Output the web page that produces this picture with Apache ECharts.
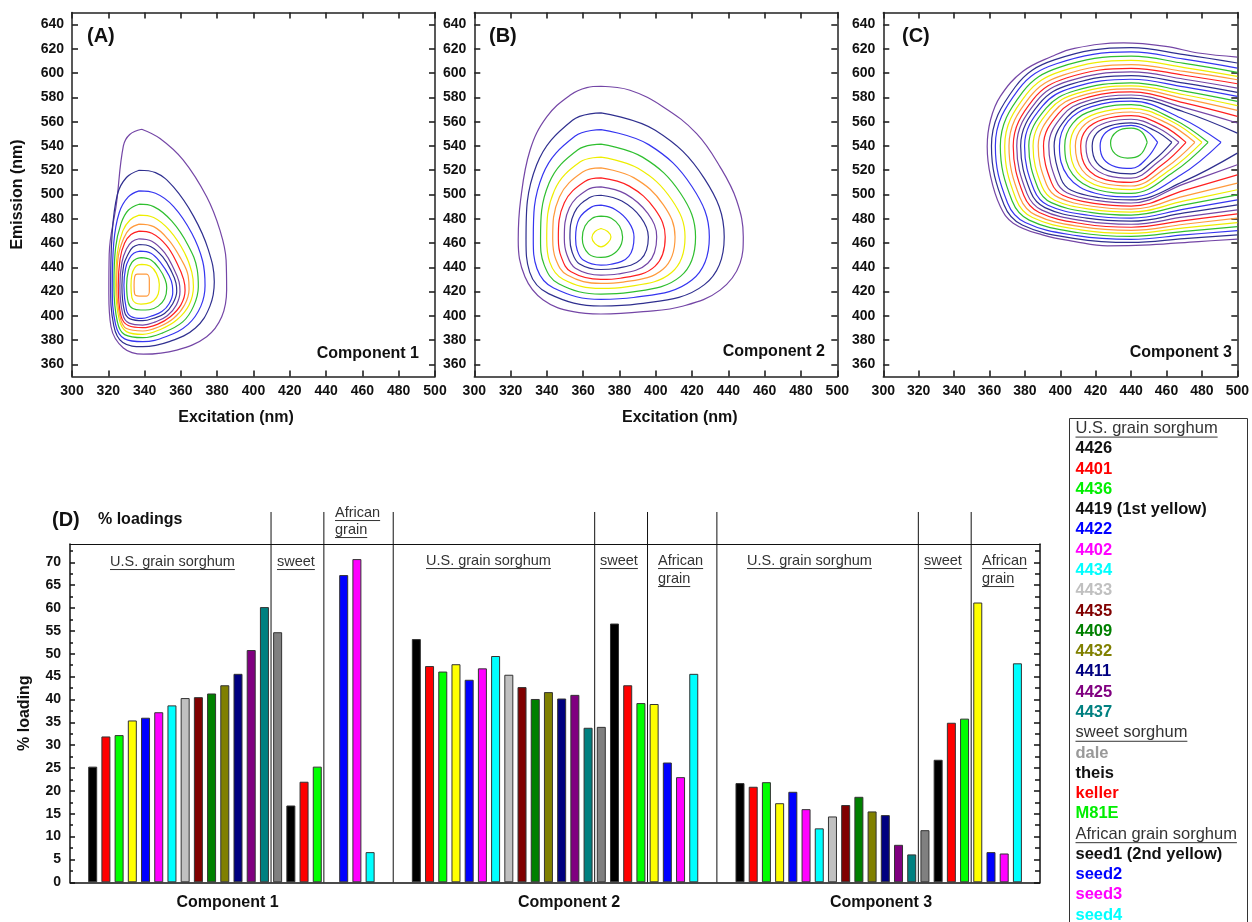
<!DOCTYPE html>
<html><head><meta charset="utf-8">
<script src="https://cdn.jsdelivr.net/npm/echarts@6/dist/echarts.min.js"></script>
<style>html,body{margin:0;padding:0;background:#fff}#c{width:1252px;height:922px}</style>
</head><body><div id="c"></div>
<script>
// ---------------- DATA ----------------
const exTicks = [300,320,340,360,380,400,420,440,460,480,500];
const emTicks = [360,380,400,420,440,460,480,500,520,540,560,580,600,620,640];
const loadTicks = [0,5,10,15,20,25,30,35,40,45,50,55,60,65,70];
const loadMinorTicks = [2.5,7.5,12.5,17.5,22.5,27.5,32.5,37.5,42.5,47.5,52.5,57.5,62.5,67.5,72.5];

const contourPalette = ['#7446a6','#2f2f8f','#3535f0','#2fbf2f','#eeee00','#ff9a3c','#ff2020'];

// Component 1 contour rings (excitation nm, emission nm), outer -> inner
const ringsA = [
 [[338.4,553.8],[348.5,546.1],[361.3,528.3],[374.2,498.1],[381.5,470.6],[384.9,445.9],[385.2,421.2],[382.5,399.2],[374.2,382.8],[357.7,371.8],[339.3,368.4],[328.3,373.5],[321.5,391],[320.3,418],[320.5,451],[324.5,492.6],[328.3,540],[331.8,549.5]],
 [[337,520],[346,518],[356,506],[367,482],[375,455],[378.4,428],[376,408],[368,390],[354,379],[339,374.6],[328,378],[323,392],[321.3,425],[322,465],[325,500],[330,514]],
 [[337,503],[346,501],[356,490],[366,468],[372,445],[373.3,425],[371,408],[364,393],[352,383],[339,378.7],[329,381],[324,393],[322.2,425],[323,460],[326,485],[331,498]],
 [[337,492],[345,490],[355,478],[364,458],[369,438],[369.6,424],[367,408],[361,395],[350,386],[339,382],[329,384.5],[325,395],[323.1,425],[324,456],[327,476],[331,487]],
 [[337,483],[345,481],[354,470],[362,452],[366,436],[366.9,424],[364.5,409],[358,397],[349,389],[339,384.7],[330,387],[326,397],[324.1,425],[325,452],[328,470],[332,479]],
 [[337,475.6],[345,473.5],[353,463],[360,447],[364,433],[364.5,422],[362,409],[356,398],[348,391],[339,387.5],[330,389.5],[326.5,399],[324.6,425],[325.5,449],[328.5,464],[332,472]],
 [[337,469.8],[344,468],[352,458],[358,443],[361.5,430],[362.3,421],[360,409],[354,399],[347,393],[339,390.2],[331,392],[327,400],[325.5,425],[326.5,447],[329,460],[332.5,467]],
 [[337,463.5],[344,461.5],[351,452],[356,439],[359,428],[359.5,420],[357.5,409],[352.5,400],[346,395],[339,392.4],[331.5,394],[328,401],[326.4,425],[327.5,444],[330,455],[333,461]],
 [[337,458.8],[343.5,457],[350,448.5],[355,436],[357.3,427],[357.7,420],[355.5,410],[351,402],[345,398],[339,396],[332,397.5],[329,403],[327.5,425],[328.5,442],[331,451],[333.5,456.5]],
 [[337.5,453.3],[343.5,451.5],[349,443.5],[353.5,433],[355.3,425],[355.5,419],[353.5,410],[349.5,403.5],[344,400],[338.5,397.9],[332.5,399.5],[330,405],[328.6,425],[329.5,439],[331.5,447],[334,451.5]],
 [[338,447.9],[343.5,446],[348,439],[351.3,430],[352.2,423],[351,414],[347.5,408],[342.5,405],[338,404.8],[333.5,406],[331,411],[330.1,425],[331,437],[333,444],[335.5,447]],
 [[338.5,442.4],[343,441],[346.5,435],[348.1,426],[347.5,418],[345,412.5],[341,410],[338,409.7],[335,410.5],[333,415],[332.5,425],[333,434],[334.5,439.5],[336.5,442]],
 [[337,434.4],[341,434.4],[342.6,430],[342.6,420],[341,416.3],[337,416.3],[334.5,418],[334.2,425],[334.5,432],[336,434.4]]
];
// Component 2 contour rings
const ringsB = [
 [[369.8,589.2],[385.8,585.9],[404.1,572.2],[422.5,550.2],[435.4,522.8],[444.5,495.3],[448.2,465.1],[446.4,443.2],[435.4,421.2],[415.2,408.1],[393.1,403.4],[369.8,401.5],[354.5,403.4],[338,413],[327.9,432.2],[324.2,462.4],[325.5,495.3],[330.7,536.5],[339.9,564],[352.7,581.8],[362,588.1]],
 [[369.8,567.3],[399.7,553],[426.8,513.1],[437.7,465],[426.8,425.7],[390.2,409.8],[369.8,408.1],[340.9,418.3],[330.5,436],[328.5,462.7],[334.3,524.3],[354.1,561.2]],
 [[369.8,553.5],[396.1,541.1],[419.9,506.6],[429.5,465],[419.9,429.5],[387.7,415.1],[369.8,413.6],[343.7,422.9],[334.5,439],[332.5,462.9],[337.7,516.3],[355.6,548.2]],
 [[369.8,541.5],[392.7,530.8],[413.6,501],[421.9,465],[413.6,432.5],[385.4,419.3],[369.8,417.9],[346.5,426.4],[338.5,442],[336.5,463.1],[341.2,509.4],[357.1,536.9]],
 [[369.8,530.8],[390.2,521.6],[408.7,495.9],[416.1,465],[408.7,435.7],[383.7,423.9],[369.8,422.6],[348.9,430.2],[341.5,444.5],[339.9,463.3],[344.1,503.2],[358.4,526.9]],
 [[369.8,521.9],[387.8,513.9],[404.1,491.7],[410.6,465],[404.1,438.6],[382,427.8],[369.8,426.7],[351.2,433.6],[344.8,447],[343.2,463.5],[346.9,498],[359.7,518.5]],
 [[369.8,513.7],[385.4,506.9],[399.5,487.9],[405.2,465],[399.5,440.8],[380.4,431],[369.8,430],[353.3,436.3],[347.8,449],[346.3,463.6],[349.6,493.2],[360.9,510.8]],
 [[369.8,506.3],[383.3,500.5],[395.6,484.4],[400.5,465],[395.6,443.3],[379,434.5],[369.8,433.6],[355.7,439.3],[350.9,451],[349.6,463.7],[352.4,489],[362.1,503.8]],
 [[369.8,499.4],[381.3,494.6],[391.7,481.2],[395.9,465],[391.7,446.5],[377.6,439],[369.8,438.2],[357.8,443],[353.8,453],[352.7,463.9],[355.1,485],[363.3,497.3]],
 [[369.8,491.2],[377.8,487.5],[385.1,477.3],[388,465],[385.1,449],[375.3,442.5],[369.8,441.8],[360,446],[356.7,454],[355.8,464.1],[357.8,480.2],[364.5,489.6]],
 [[369.8,482.2],[375.5,480.5],[380,474],[381.7,465],[379.5,455],[374,449],[369.8,448.1],[363,451],[359.5,464],[361,474],[365,480.5]],
 [[369.8,472],[373.5,469.5],[375.3,465],[373.5,460],[369.8,456.9],[366.5,459.5],[364.8,464.5],[366.5,469.5]]
];
// Component 3 contour rings: open ones leave the plot at 500 nm
const ringsCOpen = [
 [[500,613.3],[478,616.6],[459.6,622.1],[435.8,624.9],[408,620.5],[395.4,613.9],[378.9,601.5],[366.1,580.9],[360.6,561.6],[358.7,539.6],[360.6,514.9],[366.1,490.1],[373.4,476.4],[389.9,466.7],[408.3,461.2],[426.6,457.7],[450.5,458.5],[478,461.2],[500,463.2]],
 [[500,608.4],[470,615.3],[440,621],[396.6,610.9],[374.5,588.6],[361.1,540],[368.2,491.5],[378.5,474.8],[408.4,463.7],[440,460.5],[470,463.6],[500,466.7]],
 [[500,604.2],[470,611.5],[440,617.5],[397.8,607.8],[376.3,586.5],[363.3,540],[370.2,493],[380.2,476.9],[409.3,466.1],[440,463],[470,466.7],[500,470.3]],
 [[500,600.7],[470,608],[440,614],[399.4,604.8],[378.7,584.4],[366.1,540],[372.8,494.6],[382.4,478.9],[410.4,468.5],[440,465.5],[470,469.6],[500,473.6]],
 [[500,597.4],[470,604.6],[440,610.5],[400.7,601.7],[380.7,582.3],[368.6,540],[375,496.1],[384.3,481],[411.4,470.9],[440,468],[470,472.5],[500,476.9]],
 [[500,594.6],[470,601.4],[440,607],[402,598.6],[382.7,580.2],[371,540],[377.2,497.6],[386.2,483],[412.4,473.3],[440,470.5],[470,475.5],[500,480.5]],
 [[500,591.3],[470,598.3],[440,604],[403.4,596],[384.7,578.4],[373.4,540],[379.4,499.1],[388.1,485.1],[413.4,475.7],[440,473],[470,478.5],[500,484]],
 [[500,587.7],[470,595],[440,601],[404.5,593.4],[386.4,576.6],[375.4,540],[381.2,500.7],[389.6,487.1],[414.2,478.1],[440,475.5],[470,481.5],[500,487.4]],
 [[500,584.2],[470,591.8],[440,598],[405.7,590.8],[388.2,574.8],[377.6,540],[383.2,502.2],[391.3,489.2],[415,480.5],[440,478],[470,484.8],[500,491.5]],
 [[500,580.9],[470,588.7],[440,595],[406.9,588.1],[390,573],[379.8,540],[385.2,503.7],[393,491.2],[415.9,482.9],[440,480.5],[470,488],[500,495.6]],
 [[500,576.8],[470,585.2],[440,592],[408.2,585.5],[392,571.2],[382.2,540],[387.4,505.2],[394.9,493.3],[416.9,485.3],[440,483],[470,491.4],[500,499.7]],
 [[500,573.2],[470,582.2],[440,589.5],[409.5,583.3],[394,569.7],[384.6,540],[389.6,506.8],[396.8,495.3],[417.8,487.7],[440,485.5],[470,494.7],[500,503.9]],
 [[500,569.3],[470,579],[440,587],[411.1,581.1],[396.4,568.2],[387.5,540],[392.2,508.3],[399.1,497.4],[419,490.1],[440,488],[470,498.7],[500,509.4]],
 [[500,564.4],[470,575.5],[440,584.5],[412.8,578.9],[398.9,566.7],[390.5,540],[395,509.8],[401.4,499.4],[420.2,492.5],[440,490.5],[470,503.4],[500,516.2]],
 [[500,558.9],[470,571.6],[440,582],[414.4,576.8],[401.4,565.2],[393.5,540],[397.7,511.3],[403.7,501.5],[421.4,494.9],[440,493],[470,508.8],[500,524.5]],
 [[500,550.6],[470,568],[440,579.5],[416.1,574.6],[403.9,563.7],[396.5,540],[400.4,512.9],[406.1,503.5],[422.6,497.3],[440,495.5],[470,511],[500,534.1]]
];
const ringsCClosed = [
 [[490.8,543],[468,563],[440,577],[417.7,572.4],[404.4,560.4],[399.5,540],[404.4,514.8],[419.8,501],[440,498],[468,516]],
 [[483.5,543],[464,562],[440,574],[419.4,569.8],[407,558.7],[402.5,540],[407,516.6],[421.3,503.7],[440,501],[464,518.5]],
 [[480,543],[462,561],[440,571],[421,567.1],[409.6,557],[405.5,540],[409.6,518.4],[422.8,506.5],[440,504],[462,520.5]],
 [[476,543],[460,559],[440,568],[422.7,564.5],[412.3,555.4],[408.5,540],[412.3,520.2],[424.3,509.3],[440,507],[460,522.5]],
 [[471,543],[457.5,557],[440,565],[424.3,561.9],[414.9,553.8],[411.5,540],[414.9,522],[425.8,512.1],[440,510],[457.5,524.5]],
 [[467,543],[455,555],[440,562],[426,559.3],[417.6,552.1],[414.5,540],[417.6,524.1],[427.3,515.4],[440,513.5],[455,526.5]],
 [[463,543],[453,553],[440,559],[427.9,556.6],[420.6,550.5],[418,540],[420.6,526.2],[429,518.6],[440,517],[453,528.5]],
 [[455,543],[449,552],[440,557],[430.4,554.9],[424.6,549.4],[422.5,540],[424.6,528.9],[431.3,522.8],[440,521.5],[449,530]],
 [[449.1,543],[446,551.5],[440,554.7],[432,552],[428.4,542.5],[431,533.5],[438,530],[445,532.5]]
];

// % loadings
const components = ['Component 1','Component 2','Component 3'];
const samples = ['4426','4401','4436','4419 (1st yellow)','4422','4402','4434','4433','4435','4409','4432','4411','4425','4437','dale','theis','keller','M81E','seed1 (2nd yellow)','seed2','seed3','seed4'];
const barColors = ['#000000','#ff0000','#00ff00','#ffff00','#0000ff','#ff00ff','#00ffff','#c0c0c0','#800000','#008000','#808000','#000080','#800080','#008080','#808080','#000000','#ff0000','#00ff00','#ffff00','#0000ff','#ff00ff','#00ffff'];
const legendTextColors = ['#111111','#ff0000','#00ee00','#111111','#0000ff','#ff00ff','#00ffff','#c0c0c0','#800000','#008000','#808000','#000080','#800080','#008080','#999999','#111111','#ff0000','#00ee00','#111111','#0000ff','#ff00ff','#00ffff'];
const comp1 = [25.3,31.9,32.2,35.4,36.0,37.2,38.7,40.3,40.5,41.3,43.1,45.6,50.8,60.2,54.7,16.8,22.0,25.3,null,67.2,70.7,6.6];
const comp2 = [53.2,47.3,46.1,47.7,44.3,46.8,49.5,45.4,42.7,40.1,41.6,40.2,41.0,33.8,34.0,56.6,43.1,39.2,39.0,26.2,23.0,45.6];
const comp3 = [21.7,20.9,21.9,17.3,19.8,16.0,11.8,14.4,16.9,18.7,15.5,14.7,8.2,6.1,11.4,26.8,34.9,35.8,61.2,6.6,6.3,47.9];
const legendGroups = [['U.S. grain sorghum',0,14],['sweet sorghum',14,18],['African grain sorghum',18,22]];

// ---------------- LAYOUT ----------------
const FONT = '"Liberation Sans", Arial, Helvetica, sans-serif';
const AX = '#222';
const compSlotOffset = [0, 24.5, 49];
const dividerSlots = [13.5, 17.5, 22.75, 38, 42, 47.25, 62.5, 66.5];
const dividerTop = 81;

const panelGrids = [
 {left:72, top:12.5, width:363, height:364},
 {left:474.3, top:12.5, width:363, height:364},
 {left:883.3, top:12.5, width:363.4, height:364}
];
const gridD = {left:70, top:544, width:970, height:338.3};

const xAxes = [], yAxes = [], series = [];
const lbl = {color:'#111', fontFamily:FONT, fontWeight:'bold', fontSize:14};
const nameStyle = {color:'#111', fontFamily:FONT, fontWeight:'bold', fontSize:16};
const xNamePad = [[0,35,0,0],[0,0,0,48],[0,0,0,0]];

panelGrids.forEach((g,p)=>{
  xAxes.push({gridIndex:p, type:'value', min:300, max:500, interval:20, position:'bottom',
    axisLine:{onZero:false, lineStyle:{color:AX,width:1.5}}, axisTick:{inside:true,length:6,lineStyle:{color:AX,width:1.6}},
    axisLabel:Object.assign({margin:8}, lbl), splitLine:{show:false},
    name: p<2 ? 'Excitation (nm)' : '', nameLocation:'middle', nameGap:33,
    nameTextStyle:Object.assign({padding:xNamePad[p]}, nameStyle)});
  xAxes.push({gridIndex:p, type:'value', min:300, max:500, interval:20, position:'top',
    axisLine:{onZero:false, lineStyle:{color:AX,width:1.5}}, axisTick:{inside:true,length:6,lineStyle:{color:AX,width:1.6}},
    axisLabel:{show:false}, splitLine:{show:false}});
  yAxes.push({gridIndex:p, type:'value', min:350, max:650, position:'left',
    axisLine:{show:true,onZero:false,lineStyle:{color:AX,width:1.5}},
    axisTick:{show:true,inside:true,length:6,customValues:emTicks,lineStyle:{color:AX,width:1.6}},
    axisLabel:Object.assign({margin:8, customValues:emTicks}, lbl), splitLine:{show:false},
    name: p===0 ? 'Emission (nm)' : '', nameLocation:'middle', nameGap:46, nameTextStyle:nameStyle});
  yAxes.push({gridIndex:p, type:'value', min:350, max:650, position:'right',
    axisLine:{show:true,onZero:false,lineStyle:{color:AX,width:1.5}},
    axisTick:{show:true,inside:true,length:6,customValues:emTicks,lineStyle:{color:AX,width:1.6}},
    axisLabel:{show:false}, splitLine:{show:false}});
});

// bar panel axes
xAxes.push({gridIndex:3, type:'value', min:-1.718, max:71.71, position:'bottom',
  axisLine:{onZero:false, lineStyle:{color:'#111',width:1.5}}, axisTick:{show:false}, axisLabel:{show:false}, splitLine:{show:false}});
xAxes.push({gridIndex:3, type:'value', min:-1.718, max:71.71, position:'top',
  axisLine:{onZero:false, lineStyle:{color:'#111',width:1.2}}, axisTick:{show:false}, axisLabel:{show:false}, splitLine:{show:false}});
const dY = {gridIndex:3, type:'value', min:0, max:74, splitLine:{show:false}};
yAxes.push(Object.assign({}, dY, {position:'left',
  axisLine:{show:true,onZero:false,lineStyle:{color:'#111',width:1.5}},
  axisTick:{show:true,inside:true,length:5,customValues:loadTicks,lineStyle:{color:'#111',width:1.5}},
  axisLabel:Object.assign({margin:9, customValues:loadTicks}, lbl),
  name:'% loading', nameLocation:'middle', nameGap:37, nameTextStyle:nameStyle}));
yAxes.push(Object.assign({}, dY, {position:'left',
  axisLine:{show:false,onZero:false}, axisTick:{show:true,inside:true,length:3,customValues:loadMinorTicks,lineStyle:{color:'#111',width:1.5}},
  axisLabel:{show:false}}));
yAxes.push(Object.assign({}, dY, {position:'right',
  axisLine:{show:true,onZero:false,lineStyle:{color:'#111',width:1.5}},
  axisTick:{show:true,inside:true,length:6,customValues:loadTicks,lineStyle:{color:'#111',width:1.5}},
  axisLabel:{show:false}}));
yAxes.push(Object.assign({}, dY, {position:'right',
  axisLine:{show:false,onZero:false}, axisTick:{show:true,inside:true,length:5,customValues:loadMinorTicks,lineStyle:{color:'#111',width:1.5}},
  axisLabel:{show:false}}));

// contour series
function addRings(rings, p, closed, colorStart) {
  rings.forEach((ring,i)=>{
    const pts = closed ? ring.concat([ring[0]]) : ring;
    series.push({type:'line', xAxisIndex:2*p, yAxisIndex:2*p, data:pts, smooth:0.4, symbol:'none',
      clip:true, silent:true, lineStyle:{color:contourPalette[(colorStart+i)%7], width:1.2}});
  });
}
addRings(ringsA, 0, true, 0);
addRings(ringsB, 1, true, 0);
addRings(ringsCOpen, 2, false, 0);
addRings(ringsCClosed, 2, true, ringsCOpen.length);

// bars
const barData = [];
[comp1, comp2, comp3].forEach((vals,c)=>vals.forEach((v,i)=>{
  if (v == null) return;
  barData.push({name:samples[i], value:[compSlotOffset[c]+i, v], itemStyle:{color:barColors[i]}});
}));
series.push({type:'bar', name:'% loading', xAxisIndex:6, yAxisIndex:6, data:barData, barWidth:9,
  itemStyle:{borderColor:'#333', borderWidth:1}, z:3});

// dividers
dividerSlots.forEach(x=>{
  series.push({type:'line', xAxisIndex:6, yAxisIndex:6, data:[[x,0],[x,dividerTop]], clip:false, symbol:'none',
    silent:true, lineStyle:{color:'#111', width:1}, z:2});
});

// ---------------- TEXT / GRAPHICS ----------------
const mctx = document.createElement('canvas').getContext('2d');
function tw(text, font){ mctx.font = font; return mctx.measureText(text).width; }
const graphic = [];
function txt(text, x, y, size, bold, color, align){
  const font = (bold ? 'bold ' : '') + size + 'px ' + FONT;
  graphic.push({type:'text', silent:true, z:50, style:{text, x, y, font, fill:color,
    align:align||'left', verticalAlign:'middle', textAlign:align||'left', textVerticalAlign:'middle'}});
  return font;
}
function uline(x1, x2, y, color){
  graphic.push({type:'line', silent:true, z:50, shape:{x1, y1:y, x2, y2:y}, style:{stroke:color, lineWidth:1}});
}
function utext(text, x, y, size, color){
  const f = txt(text, x, y, size, false, color, 'left');
  uline(x, x + tw(text, f), y + size*0.52, color);
}
// panel annotations
txt('(A)', 87, 36, 20, true, '#111');
txt('(B)', 489, 36, 20, true, '#111');
txt('(C)', 902, 36, 20, true, '#111');
txt('Component 1', 419, 354, 16, true, '#111', 'right');
txt('Component 2', 825, 352, 16, true, '#111', 'right');
txt('Component 3', 1232, 353, 16, true, '#111', 'right');
// bar panel annotations
txt('(D)', 52, 520, 20, true, '#111');
txt('% loadings', 98, 520, 16, true, '#111');
const groupLabelsD = [
 ['U.S. grain sorghum',110,562],['sweet',277,562],['African',335,513],['grain',335,530],
 ['U.S. grain sorghum',426,561],['sweet',600,561],['African',658,561],['grain',658,579],
 ['U.S. grain sorghum',747,561],['sweet',924,561],['African',982,561],['grain',982,579]
];
groupLabelsD.forEach(g=>utext(g[0], g[1], g[2], 14.5, '#333'));
const compLabelX = [227.5, 569, 881];
components.forEach((c,i)=>txt(c, compLabelX[i], 903, 16, true, '#111', 'center'));
// legend
graphic.push({type:'rect', silent:true, z:40, shape:{x:1069.5, y:418.5, width:178, height:520},
  style:{fill:'#fff', stroke:'#333', lineWidth:1}});
let row = 0;
const rowY = r => 428.5 + r*20.28;
legendGroups.forEach(g=>{
  utext(g[0], 1075.5, rowY(row), 16.5, '#333'); row++;
  for (let i=g[1]; i<g[2]; i++){ txt(samples[i], 1075.5, rowY(row), 16.5, true, legendTextColors[i]); row++; }
});

const option = {
  animation:false,
  backgroundColor:'#ffffff',
  textStyle:{fontFamily:FONT},
  grid:[...panelGrids, gridD],
  xAxis:xAxes, yAxis:yAxes, series, graphic
};
const chart = echarts.init(document.getElementById('c'), null, {width:1252, height:922});
chart.setOption(option);
</script>
</body></html>
